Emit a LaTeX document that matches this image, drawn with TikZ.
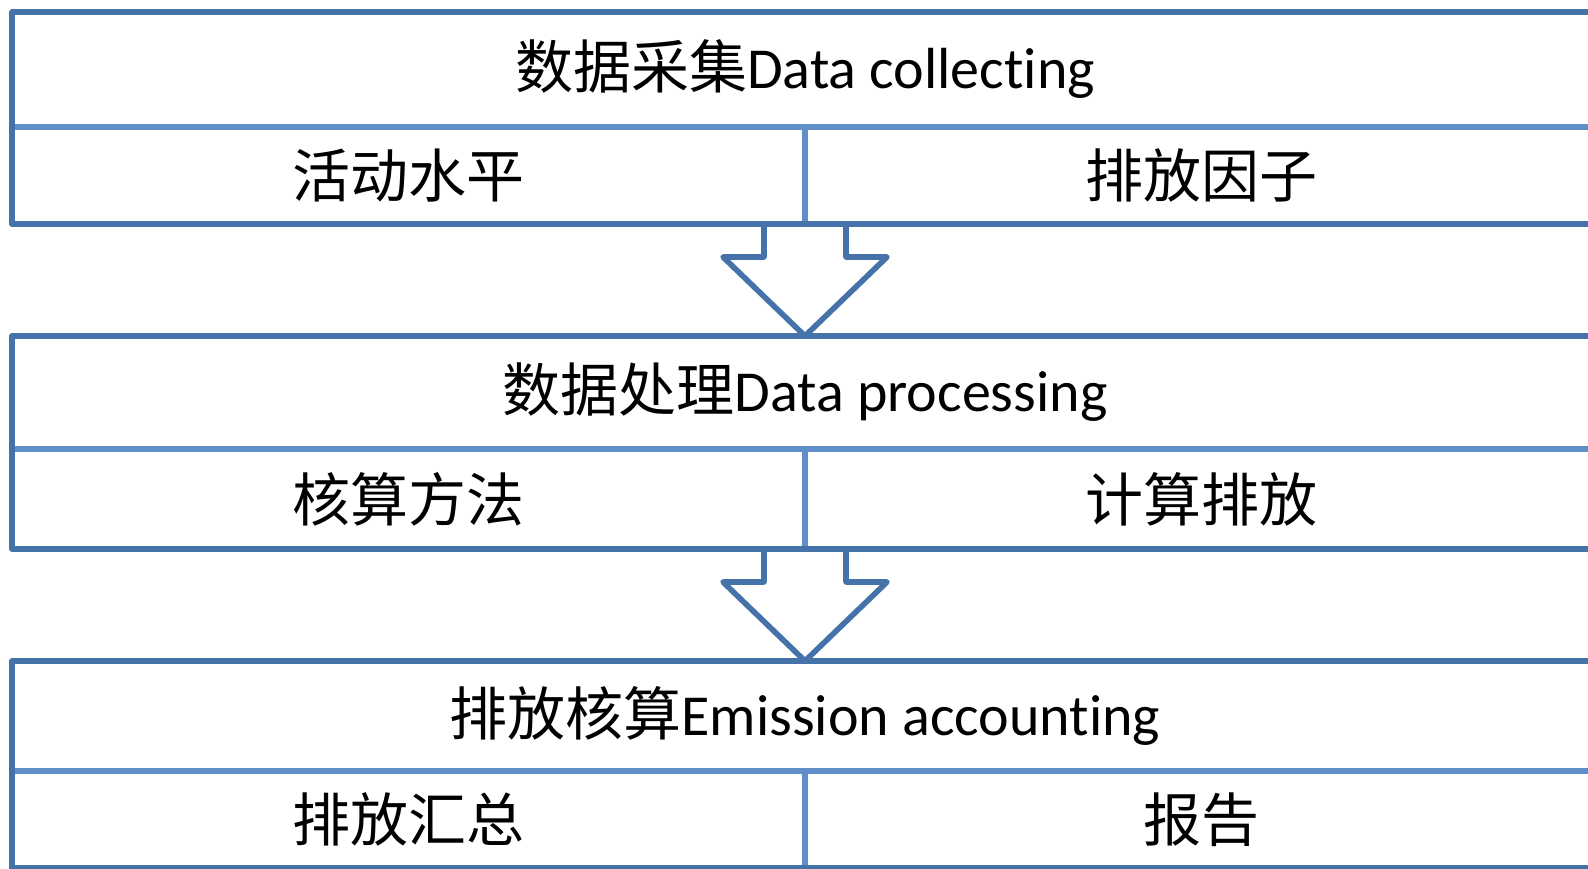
\documentclass[tikz,border=0pt]{standalone}
\usepackage{fontspec}
\setmainfont{Carlito}[RawFeature={-liga;-calt;-clig}]
\newfontfamily\cjk{Noto Sans CJK SC}
\usetikzlibrary{calc}
\definecolor{edgedark}{RGB}{70,114,170}
\definecolor{edgelight}{RGB}{96,142,200}
\newcommand{\nolig}{\kern0pt }
\tikzset{
  cell/.style={inner sep=0pt, outer sep=0pt, font=\fontsize{58}{60}\selectfont},
  outerline/.style={draw=edgedark, line width=5.6pt, line cap=round, line join=round},
  innerline/.style={draw=edgelight, line width=5.6pt},
  blockarrow/.style={draw=edgedark, line width=5.6pt, line join=round, fill=white},
}
\begin{document}
\begin{tikzpicture}[x=1pt, y=-1pt]
\useasboundingbox (0,0) rectangle (1588,869);

% ---- step 1 ----
\node[cell, minimum width=1586pt, minimum height=115pt] (h1) at (805,69.5) {{\cjk 数据采集}Data collect\nolig ing};
\node[cell, minimum width=793pt, minimum height=97pt] (a1) at (408.5,175.5) {\cjk 活动水平};
\node[cell, minimum width=793pt, minimum height=97pt] (b1) at (1201.5,175.5) {\cjk 排放因子};

% ---- step 2 ----
\node[cell, minimum width=1586pt, minimum height=113pt] (h2) at (805,392.5) {{\cjk 数据处理}Data processing};
\node[cell, minimum width=793pt, minimum height=100pt] (a2) at (408.5,499) {\cjk 核算方法};
\node[cell, minimum width=793pt, minimum height=100pt] (b2) at (1201.5,499) {\cjk 计算排放};

% ---- step 3 ----
\node[cell, minimum width=1586pt, minimum height=110pt] (h3) at (805,716) {{\cjk 排放核算}Emission account\nolig ing};
\node[cell, minimum width=793pt, minimum height=97pt] (a3) at (408.5,819.5) {\cjk 排放汇总};
\node[cell, minimum width=793pt, minimum height=97pt] (b3) at (1201.5,819.5) {\cjk 报告};

% block arrows between the steps
\foreach \a/\h in {a1/h2, a2/h3}{
  \draw[blockarrow]
    ($(\a.south east)+(-41,0)$) -- ++(0,33) -- ++(-41,0) -- (\h.north)
    -- ($(\a.south east)+(82,33)$) -- ++(-41,0) -- ++(0,-33);
}

% table rules
\foreach \h/\a/\b in {h1/a1/b1, h2/a2/b2, h3/a3/b3}{
  \draw[innerline] (\h.south west) -- (\h.south east);
  \draw[innerline] (\a.north east) -- (\a.south east);
  \draw[outerline] (\h.north east) -- (\h.north west) -- (\a.south west) -- (\b.south east);
}
\end{tikzpicture}
\end{document}
